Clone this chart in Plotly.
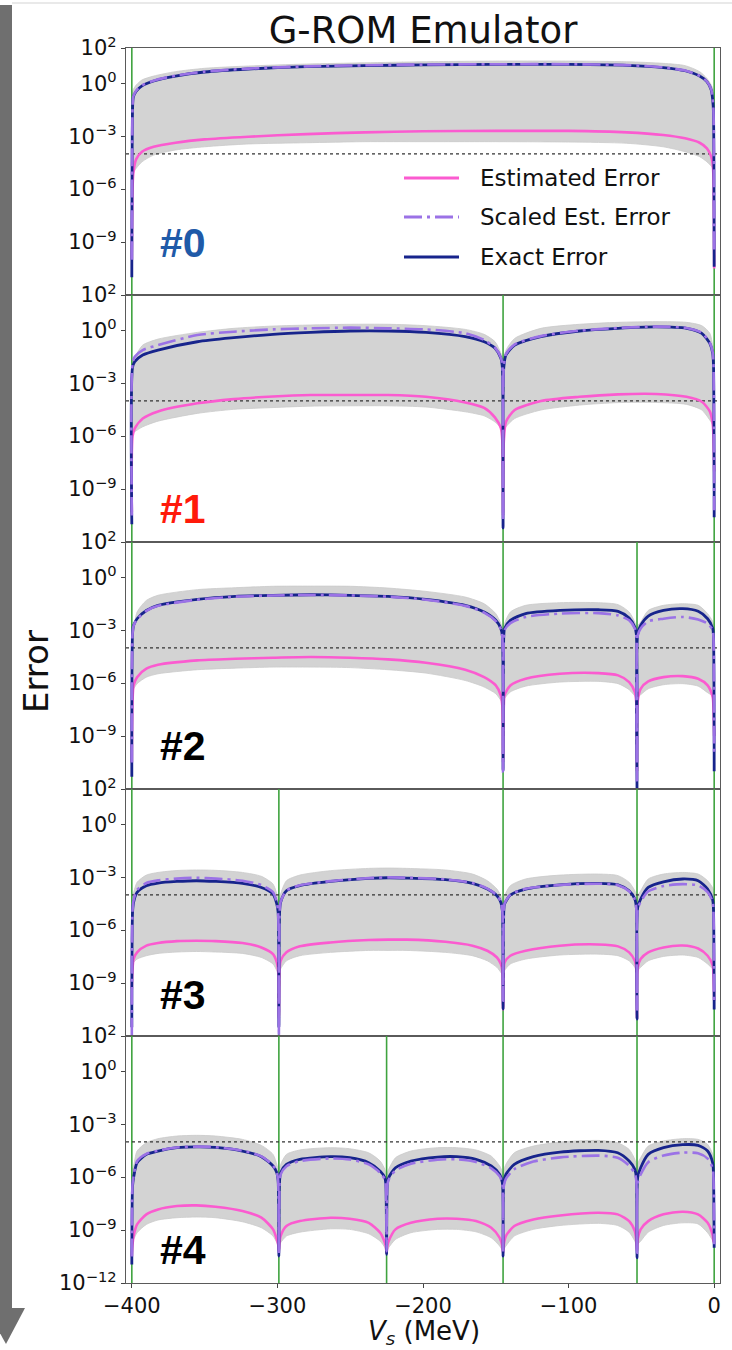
import plotly.graph_objects as go
from plotly.subplots import make_subplots

# ---------------------------------------------------------------------------
# Emulator error vs. V_s for five greedy iterations (#0 ... #4).
# Error values are stored as log10 exponents; snapshot locations in MeV.
# ---------------------------------------------------------------------------

# iteration #0
x_p0 = [-400, -399.5, -399, -397, -393, -385, -370, -350, -320, -280, -240, -200,
        -150, -100, -60, -35, -20, -10, -5, -2, -1, -0.5, 0]
exact_p0 = [-11.0, -1.5, -0.8, -0.45, -0.15, 0.13, 0.41, 0.64, 0.81, 0.94, 1.0, 1.04,
            1.07, 1.07, 1.02, 0.89, 0.71, 0.41, 0.09, -0.38, -0.95, -1.6, -10.4]
scaled_p0 = [-10.0, -1.4, -0.75, -0.42, -0.12, 0.15, 0.43, 0.66, 0.83, 0.96, 1.02, 1.06,
             1.08, 1.08, 1.03, 0.9, 0.72, 0.42, 0.1, -0.36, -0.9, -1.5, -9.5]
est_p0 = [-10.0, -6.0, -5.1, -4.3, -3.88, -3.6, -3.37, -3.18, -3.03, -2.88, -2.78, -2.72,
          -2.7, -2.7, -2.78, -2.93, -3.12, -3.37, -3.69, -4.16, -4.6, -5.3, -10.5]
band_hi_p0 = [-0.6, -0.45, -0.35, -0.1, 0.19, 0.41, 0.66, 0.85, 0.98, 1.09, 1.16, 1.22,
              1.26, 1.26, 1.22, 1.13, 1.0, 0.66, 0.28, -0.1, -0.3, -0.45, -0.56]
band_lo_p0 = [-5.3, -5.2, -5.1, -4.82, -4.45, -4.07, -3.78, -3.6, -3.44, -3.37, -3.31, -3.31,
              -3.31, -3.33, -3.4, -3.6, -3.88, -4.16, -4.45, -4.7, -4.82, -4.9, -5.0]
snaps_p0 = [-400, 0]

# iteration #1
x_p1 = [-400, -399.5, -398, -392.5, -382, -355, -330, -303, -277, -250, -224, -198, -171,
        -158, -150.5, -146.5, -145.5, -145, -144.5, -143, -137, -119, -92.5, -66, -40,
        -19, -8.5, -3, -1, -0.5, 0]
exact_p1 = [-11.0, -2.1, -1.78, -1.40, -1.12, -0.65, -0.42, -0.23, -0.12, -0.04, -0.04,
            -0.12, -0.36, -0.65, -1.02, -1.59, -2.1, -11.2, -2.1, -1.40, -0.84, -0.36,
            -0.04, 0.11, 0.19, 0.11, -0.17, -0.74, -1.3, -1.9, -10.6]
scaled_p1 = [-10.5, -1.9, -1.5, -1.12, -0.84, -0.27, -0.08, 0.05, 0.11, 0.15, 0.11, 0.05,
             -0.17, -0.55, -0.99, -1.55, -2.05, -10.8, -2.05, -1.35, -0.8, -0.33, -0.02,
             0.13, 0.21, 0.13, -0.15, -0.7, -1.25, -1.85, -10.2]
est_p1 = [-10.3, -6.0, -5.56, -5.0, -4.6, -4.14, -3.9, -3.75, -3.67, -3.67, -3.67, -3.77,
          -4.09, -4.4, -4.95, -5.55, -6.3, -10.5, -6.3, -5.18, -4.52, -4.01, -3.77, -3.63,
          -3.61, -3.77, -4.05, -4.6, -5.3, -6.0, -8.0]
band_hi_p1 = [-1.9, -1.6, -1.5, -0.84, -0.5, -0.12, 0.11, 0.24, 0.3, 0.34, 0.34, 0.26, 0.05,
              -0.23, -0.65, -1.3, -1.55, -1.69, -1.55, -1.12, -0.46, 0.11, 0.34, 0.45, 0.49,
              0.45, 0.26, -0.17, -0.9, -1.4, -1.78]
band_lo_p1 = [-5.94, -5.85, -5.75, -5.47, -5.15, -4.71, -4.48, -4.38, -4.3, -4.28, -4.28,
              -4.35, -4.62, -4.85, -5.2, -5.55, -5.75, -5.85, -5.7, -5.47, -5.0, -4.52,
              -4.24, -4.1, -4.09, -4.2, -4.52, -5.09, -5.35, -5.42, -5.47]
snaps_p1 = [-400, -145, 0]

# iteration #2
x_p2 = [-400, -399.5, -398.8, -396.4, -390, -382, -355, -329, -303, -277, -250, -224, -198,
        -171, -158, -150, -146.5, -145.5, -145, -144.5, -144, -140, -129.5, -106, -79.5,
        -66, -58.4, -54.5, -53.5, -53, -52.5, -50.5, -45.3, -34.8, -21.6, -11, -4.5, -1,
        -0.5, 0]
exact_p2 = [-11.3, -3.2, -2.73, -2.35, -1.88, -1.59, -1.25, -1.08, -1.02, -0.99, -1.02,
            -1.08, -1.25, -1.59, -1.97, -2.44, -2.91, -3.3, -10.95, -3.3, -2.91, -2.44,
            -2.06, -1.88, -1.84, -1.93, -2.31, -2.82, -3.2, -12.0, -3.2, -2.73, -2.2,
            -1.88, -1.78, -1.93, -2.35, -2.9, -3.3, -11.0]
scaled_p2 = [-10.5, -3.2, -2.75, -2.38, -1.9, -1.62, -1.27, -1.1, -1.03, -1.0, -1.03, -1.1,
             -1.27, -1.62, -2.0, -2.48, -2.95, -3.4, -11.0, -3.4, -3.0, -2.6, -2.25, -2.06,
             -2.03, -2.16, -2.44, -2.9, -3.3, -11.5, -3.3, -2.9, -2.5, -2.35, -2.25, -2.39,
             -2.63, -3.0, -3.4, -10.0]
est_p2 = [-10.5, -7.0, -6.13, -5.66, -5.18, -4.96, -4.71, -4.62, -4.56, -4.52, -4.56, -4.65,
          -4.84, -5.24, -5.66, -6.13, -6.7, -7.3, -10.5, -7.3, -6.7, -6.13, -5.75, -5.47,
          -5.43, -5.56, -5.94, -6.5, -7.1, -11.0, -7.0, -6.32, -5.9, -5.66, -5.6, -5.75,
          -6.13, -6.8, -7.4, -9.0]
band_hi_p2 = [-3.0, -2.95, -2.91, -1.97, -1.31, -1.02, -0.7, -0.59, -0.51, -0.5, -0.51,
              -0.61, -0.8, -1.12, -1.5, -2.06, -2.63, -2.9, -3.01, -2.85, -2.63, -1.97,
              -1.59, -1.44, -1.44, -1.55, -1.97, -2.54, -2.8, -2.91, -2.75, -2.54, -1.88,
              -1.59, -1.5, -1.59, -2.06, -2.5, -2.65, -2.73]
band_lo_p2 = [-6.4, -6.35, -6.32, -6.03, -5.66, -5.47, -5.24, -5.15, -5.09, -5.09, -5.12,
              -5.24, -5.43, -5.85, -6.22, -6.6, -6.98, -7.1, -7.17, -7.0, -6.88, -6.5,
              -6.17, -5.94, -5.9, -6.03, -6.37, -6.73, -6.85, -6.88, -6.8, -6.66, -6.32,
              -6.09, -6.03, -6.17, -6.54, -6.72, -6.76, -6.79]
snaps_p2 = [-400, -145, -53, 0]

# iteration #3
x_p3 = [-400, -399.5, -398.8, -396.4, -390, -382, -369, -355.6, -342.5, -324, -311, -303,
        -300.4, -299.5, -299, -298.5, -297.8, -293.8, -284.6, -263.6, -237.3, -224, -211,
        -184.7, -166, -155.8, -149.2, -146.5, -145.5, -145, -144.5, -144, -140, -129.5,
        -106, -79.5, -66, -58.4, -54.5, -53.5, -53, -52.5, -50.5, -45.3, -34.8, -21.6,
        -11, -4.5, -1, -0.5, 0]
exact_p3 = [-11.5, -5.0, -4.43, -3.86, -3.48, -3.33, -3.24, -3.2, -3.24, -3.35, -3.58,
            -3.95, -4.52, -5.0, -11.5, -5.0, -4.43, -3.77, -3.48, -3.24, -3.07, -3.03,
            -3.05, -3.14, -3.35, -3.67, -4.05, -4.43, -4.9, -10.48, -4.9, -4.52, -4.01,
            -3.67, -3.43, -3.35, -3.43, -3.77, -4.24, -4.7, -11.04, -4.7, -4.24, -3.58,
            -3.26, -3.1, -3.2, -3.67, -4.3, -4.8, -10.5]
scaled_p3 = [-12.0, -4.9, -4.3, -3.72, -3.33, -3.18, -3.08, -3.03, -3.08, -3.2, -3.45,
             -3.85, -4.45, -5.0, -12.0, -5.0, -4.4, -3.75, -3.46, -3.22, -3.05, -3.01,
             -3.03, -3.12, -3.33, -3.65, -4.03, -4.4, -4.9, -10.0, -4.9, -4.5, -4.0,
             -3.66, -3.44, -3.37, -3.45, -3.8, -4.26, -4.75, -10.5, -4.8, -4.4, -3.8,
             -3.5, -3.39, -3.47, -3.85, -4.4, -4.9, -10.0]
est_p3 = [-9.3, -8.2, -7.64, -7.26, -6.88, -6.73, -6.62, -6.6, -6.62, -6.73, -6.98, -7.36,
          -7.83, -8.3, -11.0, -8.2, -7.74, -7.26, -6.92, -6.7, -6.56, -6.54, -6.54, -6.66,
          -6.88, -7.17, -7.55, -7.92, -8.3, -10.5, -8.2, -7.83, -7.45, -7.17, -6.88,
          -6.81, -6.92, -7.26, -7.74, -8.2, -11.0, -8.1, -7.64, -7.26, -6.98, -6.87,
          -7.04, -7.45, -8.0, -8.5, -10.0]
band_hi_p3 = [-4.0, -3.95, -3.86, -3.29, -2.88, -2.73, -2.62, -2.59, -2.61, -2.73, -2.95,
              -3.39, -3.95, -4.3, -4.43, -4.2, -3.95, -3.2, -2.88, -2.63, -2.5, -2.48,
              -2.5, -2.59, -2.82, -3.2, -3.67, -4.05, -4.3, -4.43, -4.25, -4.05, -3.48,
              -3.1, -2.88, -2.82, -2.91, -3.29, -3.77, -4.1, -4.24, -4.05, -3.77, -3.1,
              -2.82, -2.73, -2.82, -3.2, -3.6, -3.75, -3.86]
band_lo_p3 = [-7.9, -7.85, -7.83, -7.64, -7.45, -7.32, -7.24, -7.21, -7.24, -7.32, -7.55,
              -7.92, -8.3, -8.45, -8.49, -8.35, -8.2, -7.74, -7.45, -7.26, -7.15, -7.15,
              -7.15, -7.26, -7.45, -7.74, -8.11, -8.4, -8.5, -8.59, -8.5, -8.3, -7.92,
              -7.64, -7.41, -7.36, -7.45, -7.74, -8.11, -8.3, -8.4, -8.3, -8.11, -7.74,
              -7.49, -7.41, -7.55, -7.92, -8.2, -8.25, -8.3]
snaps_p3 = [-400, -299, -145, -53, 0]

# iteration #4
x_p4 = [-400, -399.5, -398.8, -396.4, -390, -382, -369, -355.6, -342.5, -324, -311, -303,
        -300.4, -299.5, -299, -298.5, -297.8, -293.8, -284.6, -263.6, -250.4, -237.3,
        -229.4, -226.2, -225.5, -225, -224.5, -223.6, -218.9, -208.3, -189.9, -176.8,
        -163.6, -153.1, -147.3, -145.5, -145, -144.5, -143.1, -137.3, -124.2, -105.8,
        -79.5, -66.3, -58.4, -54.5, -53.5, -53, -52.5, -50.5, -45.3, -34.8, -21.6, -11.1,
        -4.5, -1, -0.5, 0]
exact_p4 = [-10.95, -6.5, -6.03, -5.18, -4.71, -4.52, -4.33, -4.28, -4.31, -4.52, -4.84,
            -5.37, -5.75, -6.2, -10.48, -6.2, -5.75, -5.28, -4.99, -4.84, -4.9, -5.18,
            -5.66, -6.03, -6.4, -10.38, -6.4, -6.03, -5.47, -5.09, -4.86, -4.84, -4.99,
            -5.37, -5.85, -6.3, -10.48, -6.3, -5.85, -5.28, -4.84, -4.58, -4.48, -4.62,
            -5.09, -5.56, -6.0, -10.57, -6.0, -5.47, -4.71, -4.33, -4.16, -4.2, -4.52,
            -5.2, -5.8, -10.0]
scaled_p4 = [-10.5, -6.4, -5.95, -5.1, -4.68, -4.5, -4.32, -4.27, -4.3, -4.5, -4.82, -5.35,
             -5.75, -6.2, -10.3, -6.3, -5.85, -5.38, -5.09, -4.94, -5.0, -5.28, -5.76,
             -6.13, -6.5, -10.2, -6.5, -6.15, -5.62, -5.24, -5.01, -4.99, -5.14, -5.5,
             -5.95, -6.4, -10.3, -6.5, -6.1, -5.55, -5.12, -4.88, -4.78, -4.9, -5.35,
             -5.8, -6.2, -10.3, -6.3, -5.85, -5.15, -4.78, -4.61, -4.65, -4.95, -5.5,
             -6.0, -9.8]
est_p4 = [-10.5, -9.8, -9.34, -8.68, -8.11, -7.83, -7.64, -7.6, -7.68, -7.92, -8.3, -8.96,
          -9.53, -9.8, -10.2, -9.7, -9.34, -8.77, -8.49, -8.3, -8.36, -8.59, -9.15, -9.72,
          -9.95, -10.3, -9.9, -9.63, -8.96, -8.59, -8.36, -8.36, -8.49, -8.87, -9.44,
          -9.9, -10.3, -9.8, -9.34, -8.77, -8.4, -8.17, -8.02, -8.11, -8.49, -9.06, -9.6,
          -10.2, -9.5, -8.96, -8.49, -8.11, -7.96, -8.11, -8.59, -9.3, -9.6, -9.72]
band_hi_p4 = [-5.6, -5.5, -5.37, -4.52, -4.05, -3.82, -3.67, -3.63, -3.67, -3.86, -4.2,
              -4.71, -5.28, -5.6, -5.75, -5.5, -5.28, -4.71, -4.46, -4.33, -4.39, -4.62,
              -5.09, -5.56, -5.8, -5.94, -5.75, -5.56, -4.9, -4.52, -4.33, -4.33, -4.46,
              -4.81, -5.37, -5.7, -5.85, -5.6, -5.28, -4.62, -4.24, -4.01, -3.92, -4.05,
              -4.43, -4.99, -5.3, -5.47, -5.2, -4.9, -4.24, -3.95, -3.82, -3.86, -4.14,
              -4.7, -4.9, -4.99]
band_lo_p4 = [-9.6, -9.55, -9.53, -9.15, -8.68, -8.43, -8.3, -8.26, -8.3, -8.53, -8.87,
              -9.34, -9.72, -9.85, -9.91, -9.8, -9.72, -9.34, -9.12, -8.93, -8.96, -9.21,
              -9.63, -10.0, -10.2, -10.29, -10.15, -10.0, -9.53, -9.15, -8.96, -8.96, -9.1,
              -9.44, -9.91, -10.15, -10.25, -10.1, -9.91, -9.34, -8.96, -8.74, -8.62,
              -8.74, -9.12, -9.63, -9.85, -10.0, -9.8, -9.63, -9.12, -8.74, -8.59, -8.65,
              -9.15, -9.6, -9.7, -9.81]
snaps_p4 = [-400, -299, -225, -145, -53, 0]

# target tolerance (dotted line)
tolerance = 1e-4

# axes
x_range = [-404, 4]
x_ticks = [-400, -300, -200, -100, 0]
x_ticktext = ["\u2212400", "\u2212300", "\u2212200", "\u2212100", "0"]
y_exp_range = [-12, 2]
y_ticks = [1e2, 1e0, 1e-3, 1e-6, 1e-9]
y_ticktext = ["10<sup>2</sup>", "10<sup>0</sup>", "10<sup>\u22123</sup>",
              "10<sup>\u22126</sup>", "10<sup>\u22129</sup>"]

panel_labels = ["#0", "#1", "#2", "#3", "#4"]
panel_label_colors = ["#1f5aa8", "#ff1a0a", "#000000", "#000000", "#000000"]

panels = [
    dict(x=x_p0, exact=exact_p0, scaled=scaled_p0, est=est_p0, hi=band_hi_p0, lo=band_lo_p0, snaps=snaps_p0),
    dict(x=x_p1, exact=exact_p1, scaled=scaled_p1, est=est_p1, hi=band_hi_p1, lo=band_lo_p1, snaps=snaps_p1),
    dict(x=x_p2, exact=exact_p2, scaled=scaled_p2, est=est_p2, hi=band_hi_p2, lo=band_lo_p2, snaps=snaps_p2),
    dict(x=x_p3, exact=exact_p3, scaled=scaled_p3, est=est_p3, hi=band_hi_p3, lo=band_lo_p3, snaps=snaps_p3),
    dict(x=x_p4, exact=exact_p4, scaled=scaled_p4, est=est_p4, hi=band_hi_p4, lo=band_lo_p4, snaps=snaps_p4),
]
for p in panels:
    for key in ("exact", "scaled", "est", "hi", "lo"):
        assert len(p[key]) == len(p["x"]), (key, len(p[key]), len(p["x"]))

COL_EST = "#fb5bd0"
COL_SCALED = "#9b72e6"
COL_EXACT = "#17248c"
COL_SNAP = "#3fa33f"
COL_BAND = "#d3d3d3"
FONT = "DejaVu Sans"
SMOOTH = 0.7


def pow10(vals):
    return [10.0 ** v for v in vals]


fig = make_subplots(rows=5, cols=1, shared_xaxes=True, vertical_spacing=0)

for k, p in enumerate(panels):
    row = k + 1
    # uncertainty band
    fig.add_trace(go.Scatter(x=p["x"], y=pow10(p["lo"]), mode="lines",
                             line=dict(width=0.8, color="#cacaca", shape="spline", smoothing=SMOOTH),
                             showlegend=False, hoverinfo="skip"), row=row, col=1)
    fig.add_trace(go.Scatter(x=p["x"], y=pow10(p["hi"]), mode="lines", fill="tonexty",
                             fillcolor=COL_BAND,
                             line=dict(width=0.8, color="#cacaca", shape="spline", smoothing=SMOOTH),
                             showlegend=False, hoverinfo="skip"), row=row, col=1)
    # snapshot locations
    gx, gy = [], []
    for s in p["snaps"]:
        gx += [s, s, None]
        gy += [10.0 ** y_exp_range[0], 10.0 ** y_exp_range[1], None]
    fig.add_trace(go.Scatter(x=gx, y=gy, mode="lines", line=dict(color=COL_SNAP, width=1.6),
                             showlegend=False, hoverinfo="skip"), row=row, col=1)
    # tolerance
    fig.add_trace(go.Scatter(x=x_range, y=[tolerance, tolerance], mode="lines",
                             line=dict(color="#333333", width=1.3, dash="dot"),
                             showlegend=False, hoverinfo="skip"), row=row, col=1)
    # error curves
    fig.add_trace(go.Scatter(x=p["x"], y=pow10(p["est"]), mode="lines", name="Estimated Error",
                             line=dict(color=COL_EST, width=2.6, shape="spline", smoothing=SMOOTH),
                             showlegend=False), row=row, col=1)
    fig.add_trace(go.Scatter(x=p["x"], y=pow10(p["exact"]), mode="lines", name="Exact Error",
                             line=dict(color=COL_EXACT, width=2.8, shape="spline", smoothing=SMOOTH),
                             showlegend=False), row=row, col=1)
    fig.add_trace(go.Scatter(x=p["x"], y=pow10(p["scaled"]), mode="lines", name="Scaled Est. Error",
                             line=dict(color=COL_SCALED, width=2.6, dash="18px,5px,3px,5px",
                                       shape="spline", smoothing=SMOOTH),
                             showlegend=False), row=row, col=1)

    last = row == 5
    tv = y_ticks + ([1e-12] if last else [])
    tt = y_ticktext + (["10<sup>\u221212</sup>"] if last else [])
    fig.update_yaxes(type="log", range=y_exp_range, tickvals=tv, ticktext=tt,
                     ticks="outside", ticklen=4, tickwidth=1.2, tickcolor="#444444",
                     showline=True, linecolor="#5a5a5a", linewidth=1.3, mirror=True,
                     showgrid=False, zeroline=False,
                     tickfont=dict(family=FONT, size=21, color="#111111"),
                     row=row, col=1)
    fig.update_xaxes(range=x_range, tickvals=x_ticks, ticktext=x_ticktext,
                     ticks="outside" if last else "", ticklen=4, tickwidth=1.2, tickcolor="#444444",
                     showline=True, linecolor="#5a5a5a", linewidth=1.3, mirror=True,
                     showgrid=False, zeroline=False, showticklabels=last,
                     tickfont=dict(family=FONT, size=21, color="#111111"),
                     row=row, col=1)

# plot area geometry in pixels
W, H = 732, 1350
ML, MR, MT, MB = 126, 12, 48, 67
PW, PH = W - ML - MR, H - MT - MB


def px(xp):
    return (xp - ML) / PW


def py(yp):
    return (H - MB - yp) / PH


annotations = []
# panel labels
label_centers = [243, 509, 746, 995, 1250]
for lab, col, yc in zip(panel_labels, panel_label_colors, label_centers):
    annotations.append(dict(text="<b>%s</b>" % lab, x=px(158), y=py(yc), xref="paper", yref="paper",
                            xanchor="left", yanchor="middle", showarrow=False,
                            font=dict(family="Liberation Sans", size=41, color=col)))
# axis titles
annotations.append(dict(text="Error", x=px(36), y=py(672), xref="paper", yref="paper",
                        textangle=-90, showarrow=False, xanchor="center", yanchor="middle",
                        font=dict(family=FONT, size=34, color="#111111")))
annotations.append(dict(text="<i>V<sub>s</sub></i> (MeV)", x=px(424), y=py(1332), xref="paper",
                        yref="paper", showarrow=False, xanchor="center", yanchor="middle",
                        font=dict(family=FONT, size=26, color="#111111")))

# legend
legend_rows = [("Estimated Error", COL_EST, "solid", 178),
               ("Scaled Est. Error", COL_SCALED, "18px,5px,3px,5px", 217),
               ("Exact Error", COL_EXACT, "solid", 257)]
shapes = []
for name, col, dash, yr in legend_rows:
    shapes.append(dict(type="line", xref="paper", yref="paper", x0=px(404), x1=px(459),
                       y0=py(yr), y1=py(yr), line=dict(color=col, width=2.8, dash=dash)))
    annotations.append(dict(text=name, x=px(478), y=py(yr), xref="paper", yref="paper",
                            xanchor="left", yanchor="middle", showarrow=False,
                            font=dict(family=FONT, size=23, color="#111111")))

# page frame: top rule and the downward arrow along the left edge
shapes.append(dict(type="line", xref="paper", yref="paper", x0=px(12), x1=px(732),
                   y0=py(3), y1=py(3), line=dict(color="#d4d4d4", width=1.2)))
shapes.append(dict(type="rect", xref="paper", yref="paper", x0=px(-2), x1=px(12),
                   y0=py(1309), y1=py(5), fillcolor="#6f6f6f", line=dict(width=0)))
shapes.append(dict(type="path", xref="paper", yref="paper",
                   path="M %f,%f L %f,%f L %f,%f Z" % (px(-14), py(1308), px(25), py(1308),
                                                       px(6), py(1344)),
                   fillcolor="#6f6f6f", line=dict(width=0)))

fig.update_layout(
    width=W, height=H, autosize=False,
    margin=dict(l=ML, r=MR, t=MT, b=MB),
    paper_bgcolor="white", plot_bgcolor="white",
    title=dict(text="G-ROM Emulator", x=px(423), xref="paper", xanchor="center",
               y=1 - 30 / H, yref="container", yanchor="middle",
               font=dict(family=FONT, size=37, color="#111111")),
    showlegend=False,
    annotations=annotations,
    shapes=shapes,
    font=dict(family=FONT),
)

fig.write_html("out.html")
